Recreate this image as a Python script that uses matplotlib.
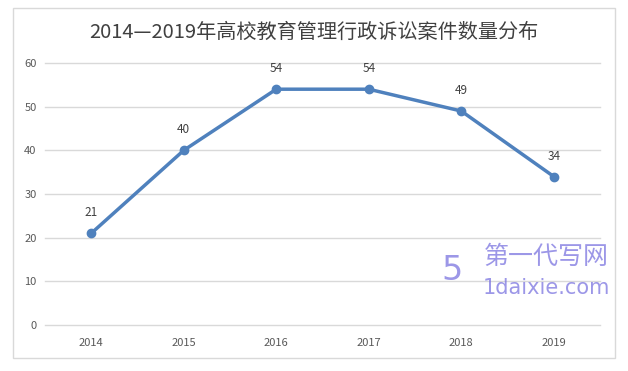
import matplotlib
matplotlib.use("Agg")
import matplotlib.pyplot as plt
from matplotlib.patches import Rectangle, Circle

plt.rcParams['font.family'] = ['Noto Sans CJK SC', 'DejaVu Sans']

years = ["2014", "2015", "2016", "2017", "2018", "2019"]
counts = [21, 40, 54, 54, 49, 34]
yticks = [0, 10, 20, 30, 40, 50, 60]
title = "2014—2019年高校教育管理行政诉讼案件数量分布"

W, H = 628, 371
fig = plt.figure(figsize=(W/100, H/100), dpi=100)
fig.patch.set_facecolor("white")
fig.add_artist(Rectangle((13/W, 1-358/H), (615-13)/W, (358-8)/H,
                         transform=fig.transFigure, fill=False,
                         edgecolor="#d9d9d9", linewidth=1))

ax = fig.add_axes([45/W, 1-325/H, (600-45)/W, (325-63)/H])
x = list(range(len(years)))
ax.plot(x, counts, color="#4f81bd", linewidth=2.5, marker="o", markersize=6,
        markerfacecolor="#4f81bd", markeredgecolor="#4f81bd", zorder=3)
for xi, v in zip(x, counts):
    ax.annotate(str(v), (xi, v), xytext=(0, 10), textcoords="offset points",
                ha="center", va="bottom", fontsize=8.5, color="#404040")
ax.set_xlim(-0.5, len(years) - 0.5)
ax.set_ylim(0, 60)
ax.set_yticks(yticks)
ax.set_yticklabels([str(t) for t in yticks])
ax.set_xticks(x)
ax.set_xticklabels(years)
ax.grid(axis="y", color="#d9d9d9", linewidth=1)
for gl in ax.get_ygridlines():
    gl.set_clip_on(False)
ax.set_axisbelow(True)
for s in ax.spines.values():
    s.set_visible(False)
ax.tick_params(axis="both", length=0, labelsize=8, colors="#595959")
ax.tick_params(axis="x", pad=9)
ax.tick_params(axis="y", pad=6)

fig.text(314/W, 1-32/H, title, ha="center", va="center", fontsize=14.5, color="#404040")

wm = "#7b74e0"
fig.text(546/W, 1-257/H, "第一代写网", ha="center", va="center", fontsize=18,
         color=wm, alpha=0.75)
fig.text(546/W, 1-288/H, "1daixie.com", ha="center", va="center", fontsize=15,
         color=wm, alpha=0.75, family=["DejaVu Sans"])
fig.add_artist(Circle((450/W, 1-270/H), 0.001, transform=fig.transFigure, alpha=0))
fig.text(452/W, 1-270/H, "5", ha="center", va="center", fontsize=24,
         color=wm, alpha=0.75, family=["DejaVu Sans"])

fig.savefig("out.png", dpi=100, facecolor="white")
